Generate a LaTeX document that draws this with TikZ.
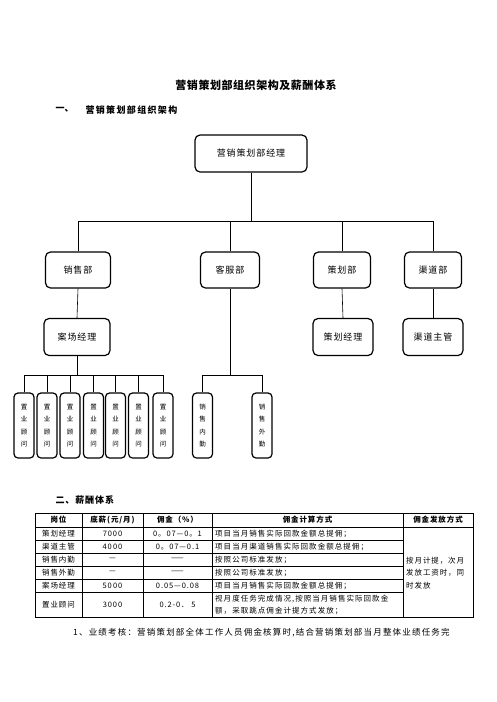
\documentclass[tikz,border=0pt]{standalone}
\usepackage{fontspec}
\setmainfont{Noto Sans CJK SC}
\newcommand{\ls}[1]{\addfontfeature{LetterSpace=#1}}
\begin{document}
\begin{tikzpicture}[x=1pt,y=-1pt,
  box/.style={draw,line width=1.2pt,rounded corners=5pt,inner sep=0pt,font=\fontsize{9}{10}\selectfont\ls{10}},
  vbox/.style={draw,line width=1.2pt,rounded corners=4pt,inner sep=0pt,minimum width=20pt,minimum height=65pt,align=center,font=\fontsize{6.5}{12.5}\selectfont},
  conn/.style={line width=0.6pt},
  bus/.style={line width=1pt},
  tline/.style={line width=0.6pt},
  th/.style={font=\fontsize{7.5}{8}\selectfont\bfseries\ls{12},anchor=center,inner sep=0pt},
  td/.style={font=\fontsize{7.5}{8}\selectfont\ls{12},anchor=center,inner sep=0pt},
  tl/.style={font=\fontsize{7.5}{8}\selectfont\ls{14},anchor=west,inner sep=0pt},
]
\useasboundingbox (0,0) rectangle (496,702);
\fill[white] (0,0) rectangle (496,702);

% headings
\node[font=\fontsize{11}{12}\selectfont\bfseries\ls{5}] (title) at (256,85) {营销策划部组织架构及薪酬体系};
\node[font=\fontsize{9}{10}\selectfont\bfseries,anchor=west] (h1a) at (52,110) {一、};
\node[font=\fontsize{9}{10}\selectfont\bfseries\ls{15},anchor=west] (h1b) at (82,110) {营销策划部组织架构};

% org chart
\node[box,minimum width=112pt,minimum height=37pt] (top) at (251,153.5) {营销策划部经理};
\node[box,minimum width=65pt,minimum height=36pt] (xs) at (78,270) {销售部};
\node[box,minimum width=59pt,minimum height=36pt] (kf) at (230,270) {客服部};
\node[box,minimum width=57pt,minimum height=36pt] (ch) at (342,270) {策划部};
\node[box,minimum width=57pt,minimum height=36pt] (qd) at (433,270) {渠道部};
\node[box,minimum width=66pt,minimum height=37pt] (ac) at (77,337) {案场经理};
\node[box,minimum width=60pt,minimum height=37pt] (chj) at (343,337) {策划经理};
\node[box,minimum width=60pt,minimum height=37pt] (qdz) at (433,337) {渠道主管};

\foreach \i/\x in {1/24,2/47,3/70,4/93.5,5/115.5,6/138.5,7/163}{
  \node[vbox] (g\i) at (\x,425.5) {置\\业\\顾\\问};
}
\node[vbox] (nq) at (202.5,425.5) {销\\售\\内\\勤};
\node[vbox] (wq) at (262,425.5) {销\\售\\外\\勤};

\coordinate (busA) at (0,221);
\coordinate (busB) at (0,375);

\draw[conn] (top.south) -- (top.south |- busA);
\draw[conn] (xs.north) |- (qd.north |- busA) -- (qd.north);
\draw[conn] (kf.north) -- (kf.north |- busA);
\draw[conn] (ch.north) -- (ch.north |- busA);
\draw[conn] (xs.south) -- (ac.north);
\draw[conn] (ch.south) -- (chj.north);
\draw[conn] (qd.south) -- (qdz.north);
\draw[conn] (kf.south) -- (kf.south |- busB);
\draw[conn] (ac.south) -- (ac.south |- busB);
\draw[bus] (g1.north) |- (g7.north |- busB) -- (g7.north);
\foreach \i in {2,...,6}{\draw[conn] (g\i.north) -- (g\i.north |- busB);}
\draw[bus] (nq.north) |- (wq.north |- busB) -- (wq.north);

% section 2
\node[font=\fontsize{9}{10}\selectfont\bfseries\ls{10},anchor=west] (h2) at (52,500) {二、薪酬体系};

% table lines
\draw[tline] (35,513) rectangle (473,617);
\foreach \y in {527}{\draw[tline] (35,\y) -- (473,\y);}
\foreach \y in {540,553,566,579,592}{\draw[tline] (35,\y) -- (403,\y);}
\foreach \x in {82,143,212,403}{\draw[tline] (\x,513) -- (\x,617);}

% header
\node[th] (c1) at (58.5,520) {岗位};
\node[th] (c2) at (112.5,520) {底薪(元/月)};
\node[th] (c3) at (177.5,520) {佣金（\%）};
\node[th] (c4) at (307.5,520) {佣金计算方式};
\node[th] (c5) at (438,520) {佣金发放方式};

% rows
\node[td] (r1a) at (58.5,533.5) {策划经理};
\node[td] (r1b) at (112.5,533.5) {7000};
\node[td] (r1c) at (177.5,533.5) {0。07—0。1};
\node[tl] (r1d) at (215,533.5) {项目当月销售实际回款金额总提佣；};

\node[td] (r2a) at (58.5,546.5) {渠道主管};
\node[td] (r2b) at (112.5,546.5) {40\,00};
\node[td] (r2c) at (177.5,546.5) {0。07—0.1};
\node[tl] (r2d) at (215,546.5) {项目当月渠道销售实际回款金额总提佣；};

\node[td] (r3a) at (58.5,559.5) {销售内勤};
\node[td] (r3b) at (112.5,559.5) {—};
\node[td] (r3c) at (177.5,559.5) {——};
\node[tl] (r3d) at (215,559.5) {按照公司标准发放；};

\node[td] (r4a) at (58.5,572.5) {销售外勤};
\node[td] (r4b) at (112.5,572.5) {—};
\node[td] (r4c) at (177.5,572.5) {——};
\node[tl] (r4d) at (215,572.5) {按照公司标准发放；};

\node[td] (r5a) at (58.5,585.5) {案场经理};
\node[td] (r5b) at (112.5,585.5) {50\,00};
\node[td] (r5c) at (177.5,585.5) {0.05—0.08};
\node[tl] (r5d) at (215,585.5) {项目当月销售实际回款金额总提佣；};

\node[td] (r6a) at (58.5,604.5) {置业顾问};
\node[td] (r6b) at (112.5,604.5) {3000};
\node[td] (r6c) at (177.5,604.5) {0.2-0．\ 5};
\node[tl,align=left,font=\fontsize{7.5}{12}\selectfont\ls{14}] (r6d) at (215,604.5) {视月度任务完成情况,按照当月销售实际回款金\\额，采取跳点佣金计提方式发放；};

\node[tl,align=left,font=\fontsize{7.5}{12.5}\selectfont\ls{12}] (pay) at (406,573) {按月计提，次月\\发放工资时，同\\时发放};

\node[font=\fontsize{8.5}{9}\selectfont\ls{14},anchor=west,inner sep=0pt] (foot) at (73,633) {1、业绩考核：营销策划部全体工作人员佣金核算时,结合营销策划部当月整体业绩任务完};
\end{tikzpicture}
\end{document}
